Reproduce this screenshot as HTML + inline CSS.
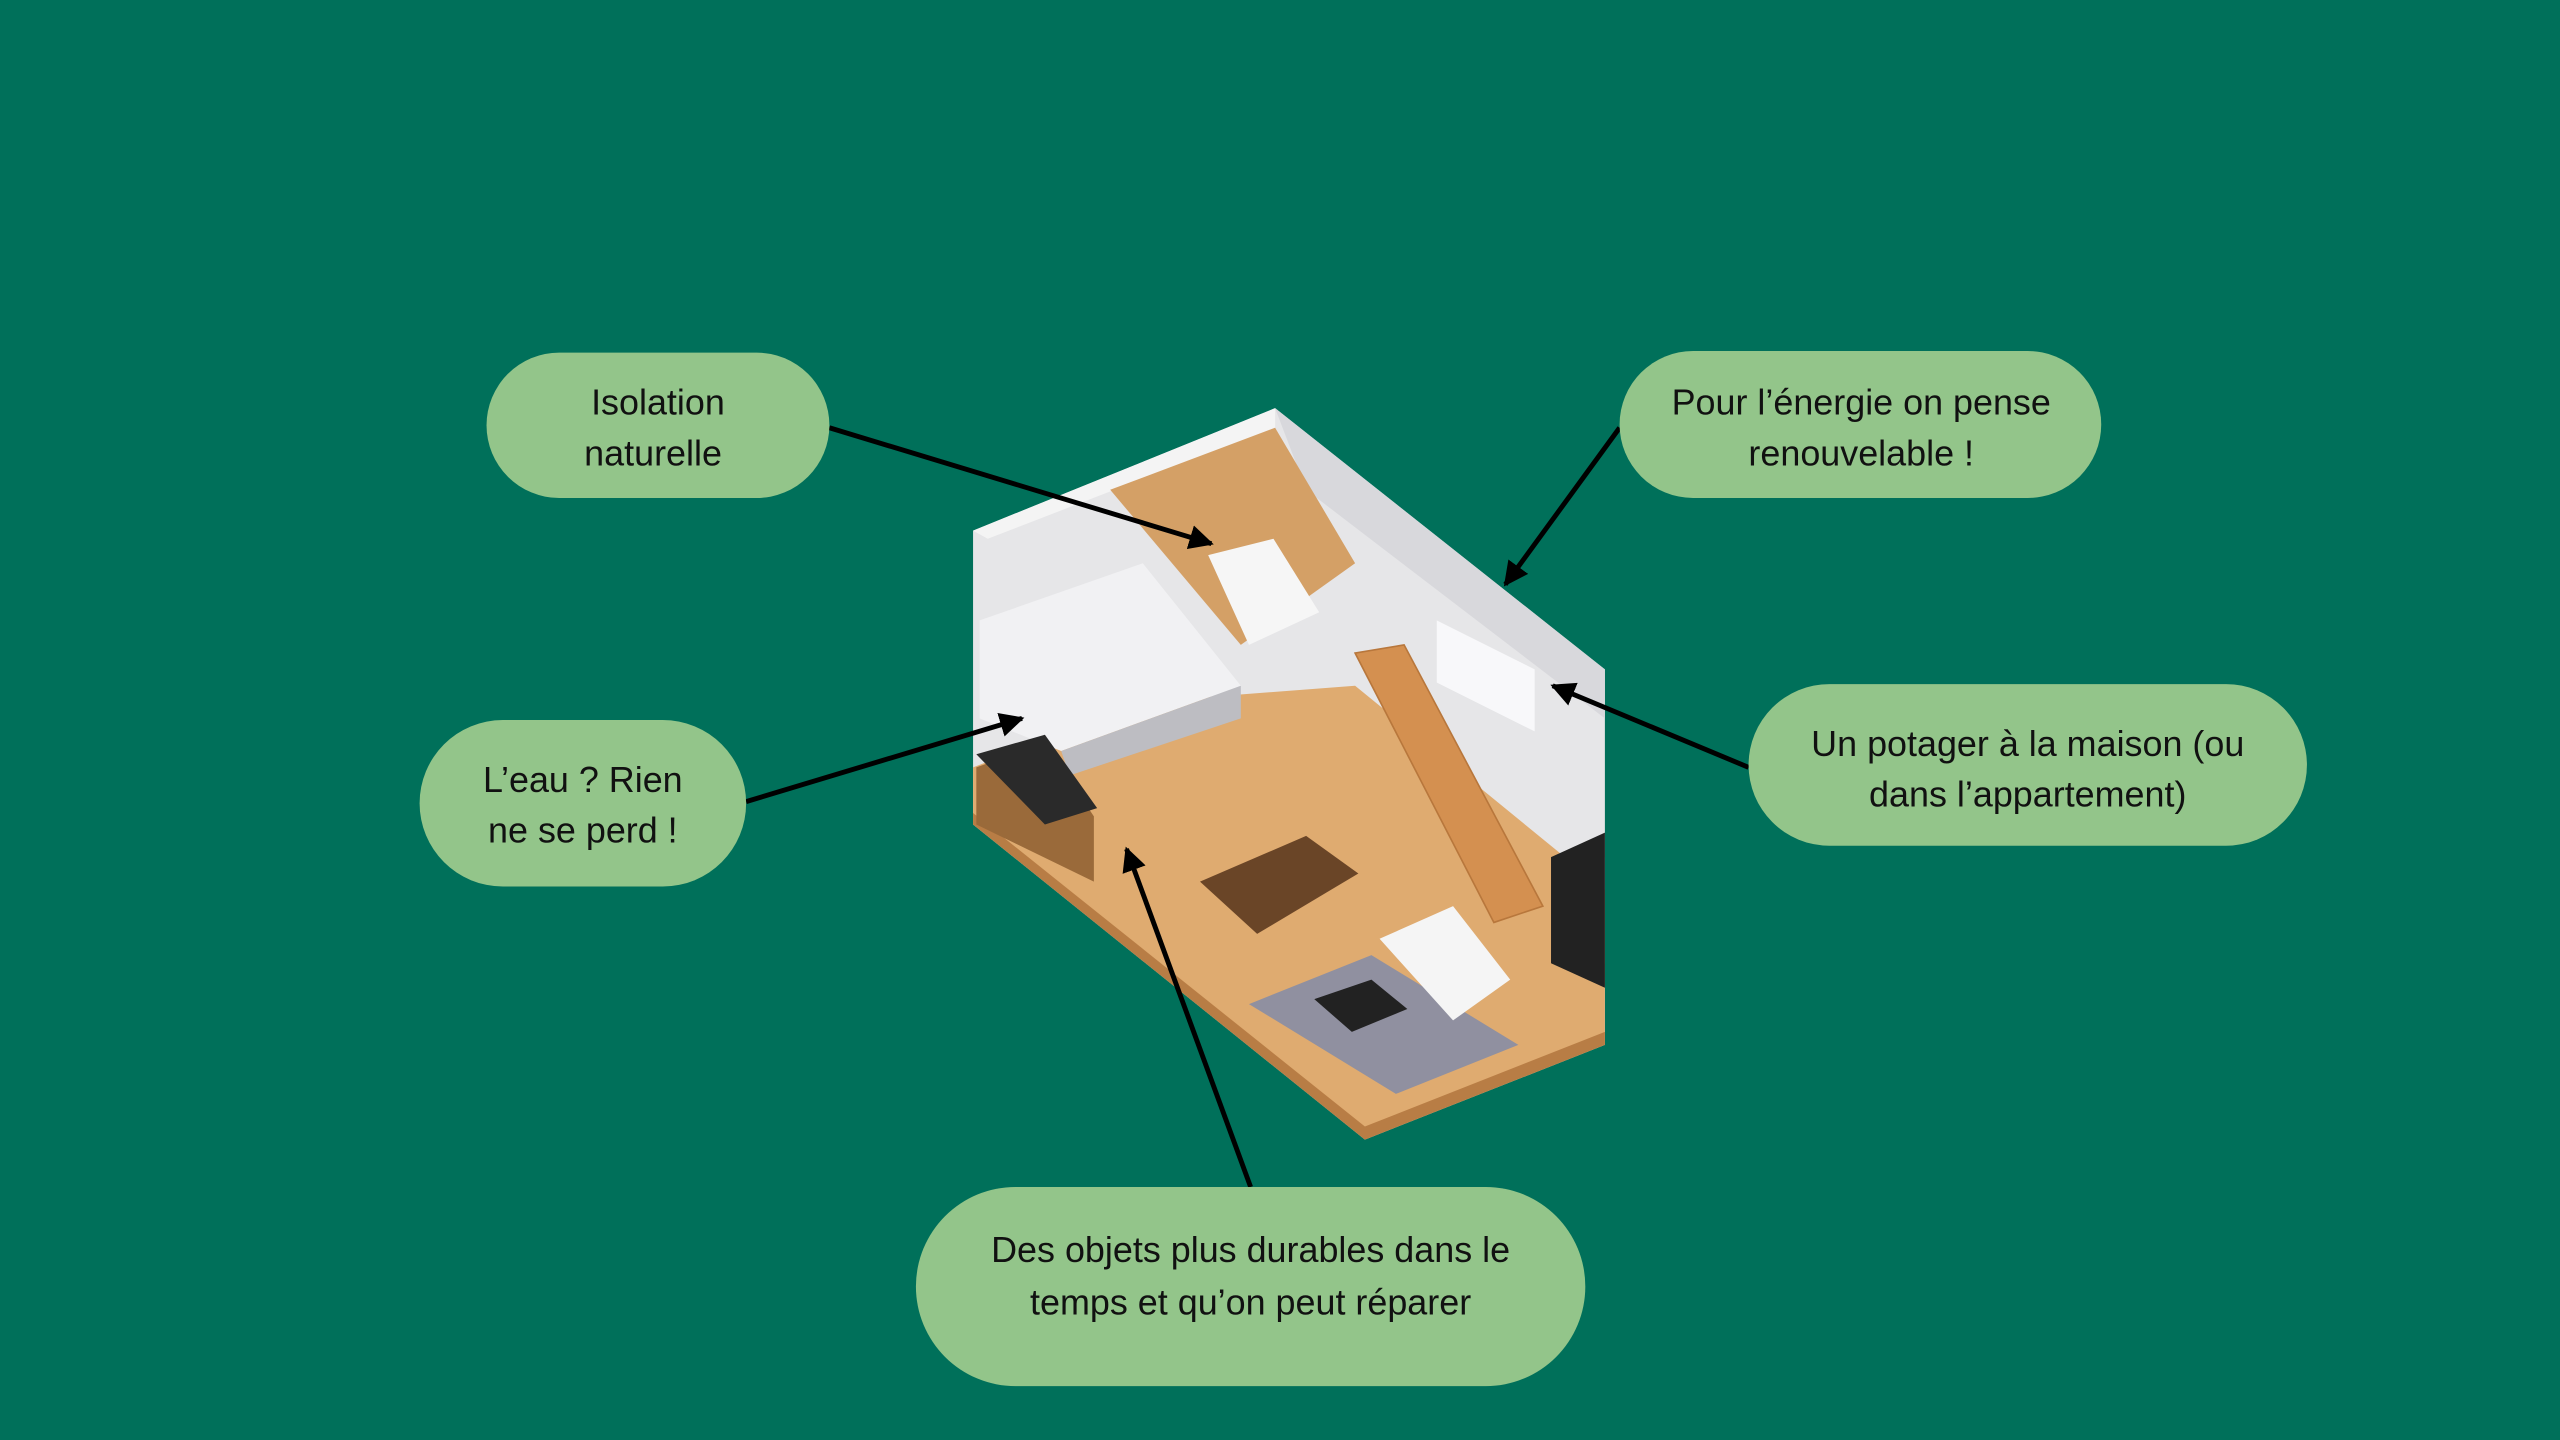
<!DOCTYPE html>
<html><head><meta charset="utf-8"><style>
html,body{margin:0;padding:0;background:#00705a;}
svg{display:block}
text{font-family:"Liberation Sans",sans-serif;font-size:22px;fill:#111;text-anchor:middle}
</style></head><body>
<svg width="2560" height="1440" viewBox="0 0 1568 882" xmlns="http://www.w3.org/2000/svg">
<defs><marker id="a" viewBox="0 0 10 10" refX="9" refY="5" markerWidth="5" markerHeight="5" orient="auto"><path d="M0,0 L10,5 L0,10 z" fill="#000"/></marker></defs>
<rect width="1568" height="882" fill="#00705a"/>
<polygon points="596,325 781,250 983,410 983,640 836,698 596,505" fill="#e6e6e8"/>
<polygon points="596,325 781,250 781,262 605,330" fill="#f4f4f4"/>
<polygon points="781,250 983,410 983,440 800,300" fill="#d8d8dc"/>
<polygon points="596,470 700,430 830,420 983,545 983,640 836,698 596,505" fill="#dfab70"/>
<polygon points="836,690 983,632 983,640 836,698 596,505 596,498" fill="#b87d45"/>
<polygon points="680,300 781,262 830,345 760,395" fill="#d4a066"/>
<polygon points="600,380 700,345 760,420 650,460 600,440" fill="#f1f1f3"/>
<polygon points="650,460 760,420 760,440 655,475" fill="#bdbdc2"/>
<polygon points="740,340 780,330 808,375 765,395" fill="#f6f6f6"/>
<g fill="#d49050" stroke="#b8773c" stroke-width="1">
<polygon points="830,400 860,395 945,555 915,565"/>
</g>
<polygon points="598,470 640,455 670,500 670,540 598,505" fill="#9a6a3a"/>
<polygon points="598,462 640,450 672,495 640,505" fill="#2a2a2a"/>
<polygon points="735,540 800,512 832,535 770,572" fill="#6a4527"/>
<polygon points="765,615 840,585 930,640 855,670" fill="#9090a0"/>
<polygon points="805,612 840,600 862,618 828,632" fill="#222"/>
<polygon points="845,575 890,555 925,600 890,625" fill="#f5f5f5"/>
<polygon points="950,525 983,510 983,605 950,590" fill="#222"/>
<polygon points="880,380 940,410 940,448 880,418" fill="#f8f8fa"/>
<g stroke="#000" stroke-width="3" fill="none" marker-end="url(#a)">
<line x1="508" y1="262" x2="742" y2="333"/>
<line x1="992" y1="262" x2="922" y2="358"/>
<line x1="1071" y1="470" x2="951" y2="420"/>
<line x1="457" y1="491" x2="626" y2="440"/>
<line x1="766" y1="727" x2="690" y2="520"/>
</g>
<g fill="#93c58a">
<rect x="298" y="216" width="210" height="89" rx="44.5"/>
<rect x="992" y="215" width="295" height="90" rx="45"/>
<rect x="1071" y="419" width="342" height="99" rx="49.5"/>
<rect x="257" y="441" width="200" height="102" rx="51"/>
<rect x="561" y="727" width="410" height="122" rx="61"/>
</g>
<text x="403" y="254">Isolation</text><text x="400" y="285">naturelle</text>
<text x="1140" y="254">Pour l’énergie on pense</text><text x="1140" y="285">renouvelable !</text>
<text x="1242" y="463">Un potager à la maison (ou</text><text x="1242" y="494">dans l’appartement)</text>
<text x="357" y="485">L’eau ? Rien</text><text x="357" y="516">ne se perd !</text>
<text x="766" y="773">Des objets plus durables dans le</text><text x="766" y="805">temps et qu’on peut réparer</text>
</svg>
</body></html>
